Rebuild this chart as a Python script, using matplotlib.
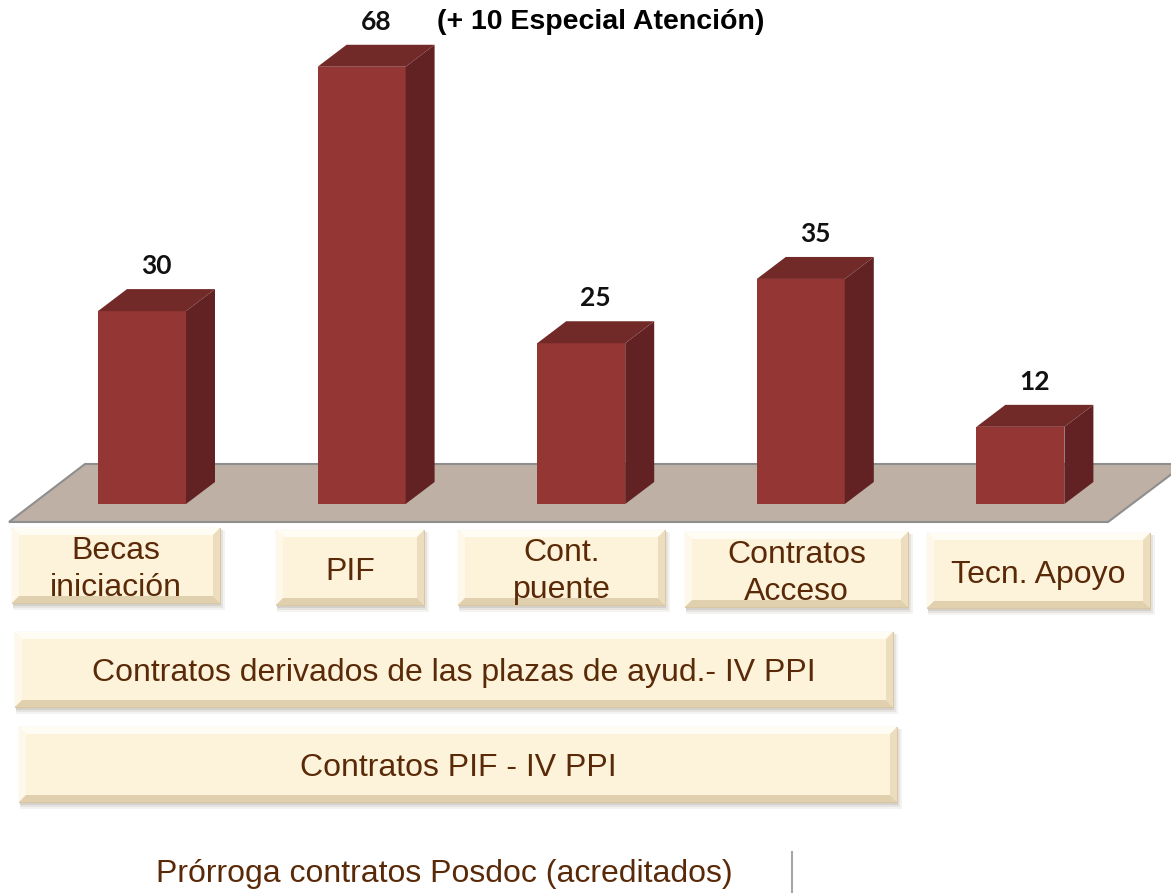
import matplotlib
matplotlib.use("Agg")
import matplotlib.pyplot as plt
from matplotlib.patches import Polygon, Rectangle

# data
categories = ["Becas\niniciación", "PIF", "Cont.\npuente", "Contratos\nAcceso", "Tecn. Apoyo"]
values = [30, 68, 25, 35, 12]
value_labels = ["30", "68", "25", "35", "12"]
extra_note = "(+ 10 Especial Atención)"
row_labels = ["Contratos derivados de las plazas de ayud.- IV PPI", "Contratos PIF - IV PPI"]
footer_label = "Prórroga contratos Posdoc (acreditados)"

# colours
FRONT = "#943634"
TOP = "#722A29"
SIDE = "#622122"
FLOOR = "#BEB0A4"
BOX = "#FDF3DA"
TXT = "#5A2A08"

W, H = 1171, 894
fig = plt.figure(figsize=(W / 100, H / 100), dpi=100)

# pixel-space layer for floor and label boxes
bg = fig.add_axes([0, 0, 1, 1])
bg.set_xlim(0, W)
bg.set_ylim(H, 0)
bg.axis("off")

# bar layer in data units
ax = fig.add_axes([0, 0, 1, 1], zorder=2)
ax.patch.set_visible(False)
ax.axis("off")
step, x0, ppu, base = 219.6, 142, 6.43, 504
ax.set_xlim(-x0 / step, (W - x0) / step)
ax.set_ylim(-(H - base) / ppu, base / ppu)

# floor
bg.add_patch(Polygon([(9, 522), (1108, 522), (1185, 464), (85, 464)],
                     closed=True, facecolor=FLOOR, edgecolor="#8E8E8E", lw=1.5))

# 3d bars
xs = list(range(len(values)))
bw = 88 / step
ddx, ddy = 29 / step, 22 / ppu
ax.bar(xs, values, width=bw, color=FRONT, zorder=3)
for x, v, lab in zip(xs, values, value_labels):
    l, r = x - bw / 2, x + bw / 2
    ax.add_patch(Polygon([(r, 0), (r + ddx, ddy), (r + ddx, v + ddy), (r, v)],
                         closed=True, facecolor=SIDE, edgecolor="none", zorder=3))
    ax.add_patch(Polygon([(l, v), (l + ddx, v + ddy), (r + ddx, v + ddy), (r, v)],
                         closed=True, facecolor=TOP, edgecolor="none", zorder=3))
    ax.text(x + ddx / 2, v + ddy + 23 / ppu, lab, ha="center", va="center",
            fontsize=19, fontweight="bold", family="Lato", color="#111111")
    if lab == "68":
        ax.annotate(extra_note, xy=(x + ddx / 2, v + ddy + 23 / ppu), xytext=(61, 0),
                    textcoords="offset pixels", ha="left", va="center",
                    fontsize=20.5, fontweight="bold", family="Liberation Sans", color="black")


def bevel_box(x, y, w, h, text, fs=23):
    b = 7
    # soft shadow
    for k, a in [(6, 0.07), (4, 0.1), (2, 0.15)]:
        bg.add_patch(Rectangle((x + 1, y + 2), w + k - 2, h + k - 1,
                               facecolor="#6E6050", alpha=a, edgecolor="none"))
    bg.add_patch(Rectangle((x, y), w, h, facecolor=BOX, edgecolor="#D8C7A2", lw=0.8))
    bg.add_patch(Polygon([(x, y), (x + w, y), (x + w - b, y + b), (x + b, y + b)],
                         facecolor="#FFFCF3", edgecolor="none"))
    bg.add_patch(Polygon([(x, y), (x + b, y + b), (x + b, y + h - b), (x, y + h)],
                         facecolor="#FEF8EA", edgecolor="none"))
    bg.add_patch(Polygon([(x + w, y), (x + w, y + h), (x + w - b, y + h - b), (x + w - b, y + b)],
                         facecolor="#EBDDBE", edgecolor="none"))
    bg.add_patch(Polygon([(x, y + h), (x + w, y + h), (x + w - b, y + h - b), (x + b, y + h - b)],
                         facecolor="#E0D0AE", edgecolor="none"))
    bg.text(x + w / 2, y + h / 2 + 4, text, ha="center", va="center", fontsize=fs,
            family="Liberation Sans", color=TXT, linespacing=1.33)


box_layout = [(12, 528, 208, 75), (276, 530, 148, 75), (458, 530, 207, 75),
              (685, 532, 223, 75), (927, 533, 223, 75)]
for (bx, by, bwid, bh), cat in zip(box_layout, categories):
    bevel_box(bx, by, bwid, bh, cat)

row_layout = [(15, 632, 878, 75), (19, 727, 878, 75)]
for (bx, by, bwid, bh), lab in zip(row_layout, row_labels):
    bevel_box(bx, by, bwid, bh, lab)

bg.text(444, 874, footer_label, ha="center", va="center", fontsize=23,
        family="Liberation Sans", color=TXT)
bg.plot([792, 792], [852, 892], color="#A6A6A6", lw=1.5)

fig.savefig("out.png", dpi=100)
